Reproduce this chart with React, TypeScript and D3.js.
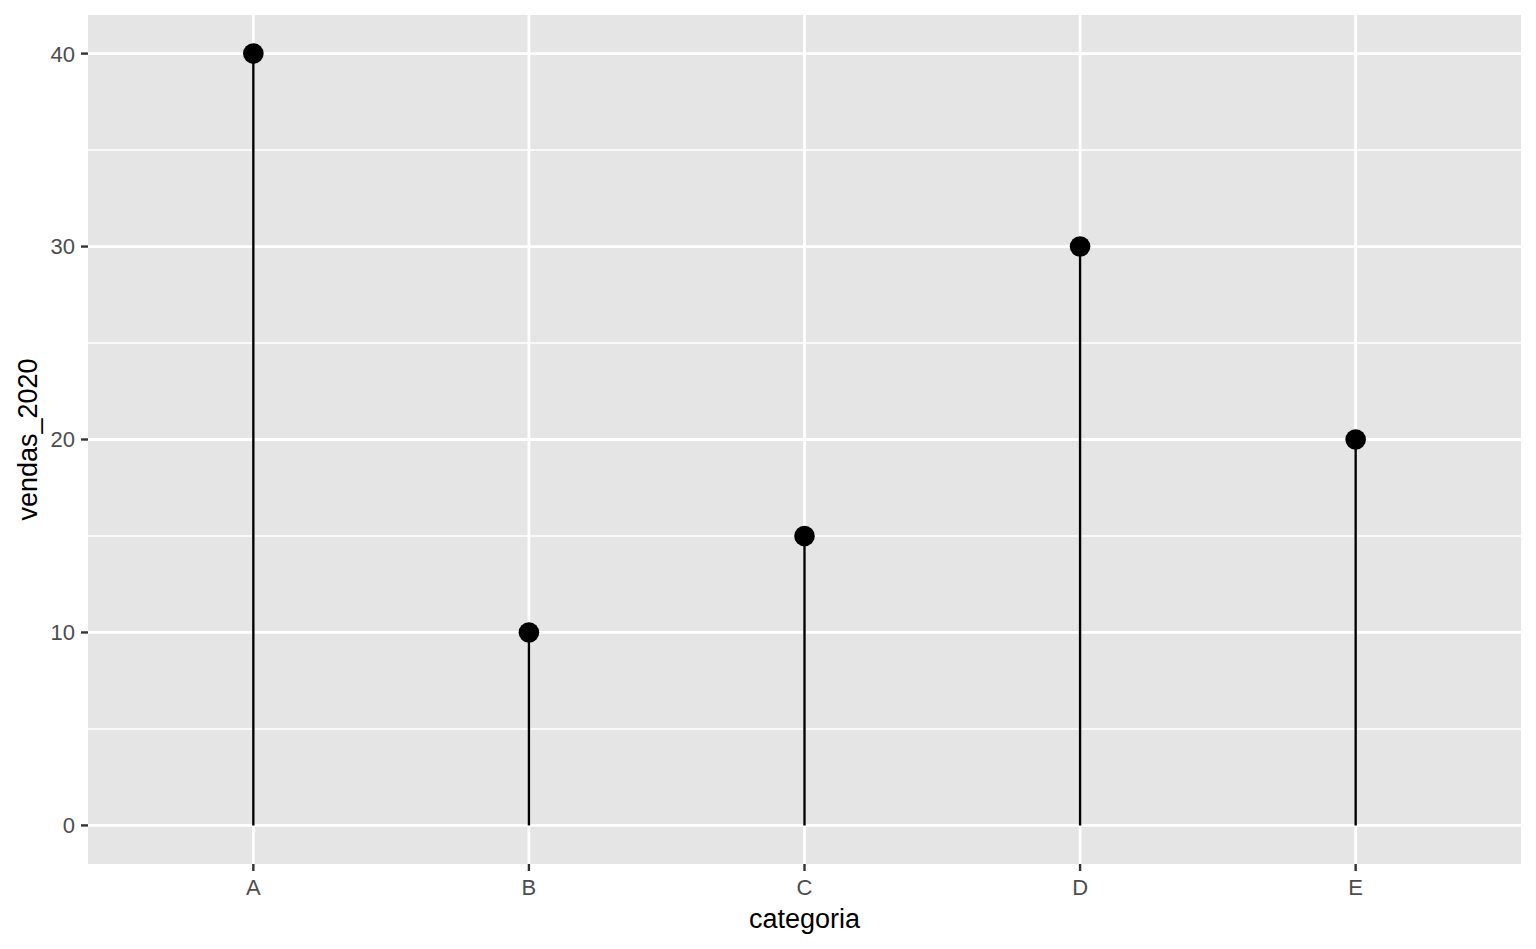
import React from 'react';
import * as d3 from 'd3';

const categorias = ['A', 'B', 'C', 'D', 'E'];
const vendas2020 = [40, 10, 15, 30, 20];
const yTicks = [0, 10, 20, 30, 40];
const yMinor = [5, 15, 25, 35];

const W = 1536;
const H = 949;
const panel = { left: 88, right: 1521, top: 15, bottom: 864 };
const FONT = '"Liberation Sans", Arial, Helvetica, sans-serif';

const App: React.FC = () => {
  const x = d3.scalePoint<string>()
    .domain(categorias)
    .range([panel.left, panel.right])
    .padding(0.6);

  const y = d3.scaleLinear()
    .domain([-2, 42])
    .range([panel.bottom, panel.top]);

  const data = categorias.map((c, i) => ({ cat: c, v: vendas2020[i] }));

  return (
    <svg width={W} height={H} style={{ display: 'block', position: 'absolute', left: 0, top: 0 }}>
      <rect x={0} y={0} width={W} height={H} fill="#ffffff" />
      {/* panel */}
      <rect x={panel.left} y={panel.top} width={panel.right - panel.left} height={panel.bottom - panel.top} fill="#e5e5e5" />
      {/* minor grid */}
      {yMinor.map(t => (
        <line key={'m' + t} x1={panel.left} x2={panel.right} y1={y(t)} y2={y(t)} stroke="#ffffff" strokeWidth={1.4} />
      ))}
      {/* major grid */}
      {yTicks.map(t => (
        <line key={'g' + t} x1={panel.left} x2={panel.right} y1={y(t)} y2={y(t)} stroke="#ffffff" strokeWidth={2.8} />
      ))}
      {categorias.map(c => (
        <line key={'gx' + c} x1={x(c)} x2={x(c)} y1={panel.top} y2={panel.bottom} stroke="#ffffff" strokeWidth={2.8} />
      ))}
      {/* lollipops */}
      {data.map(d => (
        <g key={d.cat}>
          <line x1={x(d.cat)} x2={x(d.cat)} y1={y(0)} y2={y(d.v)} stroke="#000000" strokeWidth={2.4} />
          <circle cx={x(d.cat)} cy={y(d.v)} r={10.3} fill="#000000" />
        </g>
      ))}
      {/* y axis ticks and labels */}
      {yTicks.map(t => (
        <g key={'yt' + t}>
          <line x1={panel.left - 7} x2={panel.left} y1={y(t)} y2={y(t)} stroke="#333333" strokeWidth={2.4} />
          <text x={panel.left - 13} y={y(t)} dy="0.36em" textAnchor="end" fontFamily={FONT} fontSize={22} fill="#4d4d4d">{t}</text>
        </g>
      ))}
      {/* x axis ticks and labels */}
      {categorias.map(c => (
        <g key={'xt' + c}>
          <line x1={x(c)} x2={x(c)} y1={panel.bottom} y2={panel.bottom + 7} stroke="#333333" strokeWidth={2.4} />
          <text x={x(c)} y={895} textAnchor="middle" fontFamily={FONT} fontSize={22} fill="#4d4d4d">{c}</text>
        </g>
      ))}
      {/* axis titles */}
      <text x={(panel.left + panel.right) / 2} y={928} textAnchor="middle" fontFamily={FONT} fontSize={27} fill="#000000">categoria</text>
      <text transform={`translate(37,${(panel.top + panel.bottom) / 2}) rotate(-90)`} textAnchor="middle" fontFamily={FONT} fontSize={27} fill="#000000">vendas_2020</text>
    </svg>
  );
};

export default App;
